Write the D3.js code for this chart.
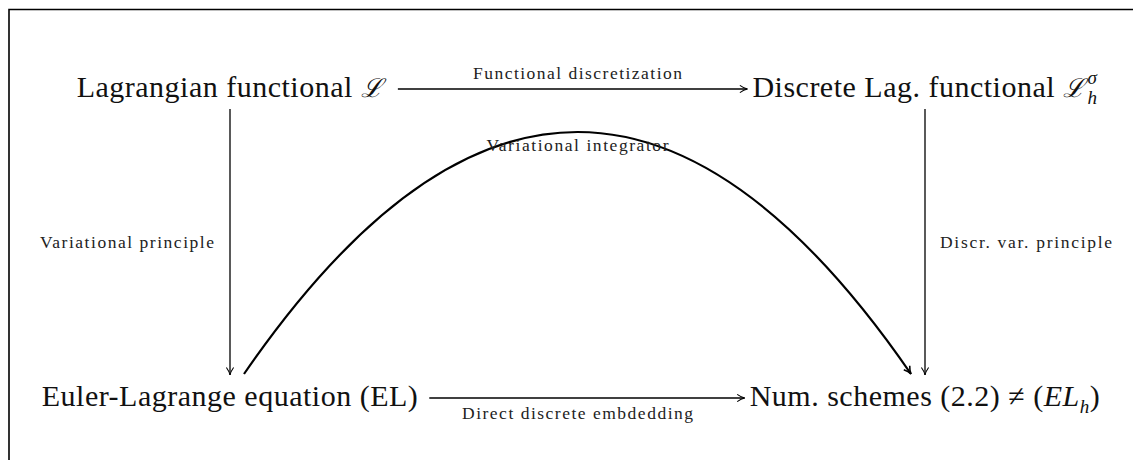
<!DOCTYPE html>
<html>

<head>
    <meta charset="utf-8">
    <style>
        body {
            margin: 0;
            background: white;
        }

        svg {
            display: block;
        }

        .node {
            font-family: 'Liberation Serif', 'DejaVu Serif', serif;
            font-size: 30px;
            letter-spacing: 0.5px;
            fill: #111;
        }

        .label {
            font-family: 'Liberation Serif', 'DejaVu Serif', serif;
            font-size: 17.5px;
            fill: #222;
        }
    </style>
</head>

<body>
    <svg width="1133" height="460"></svg>

    <script src="https://d3js.org/d3.v7.min.js"></script>
    <script>
        // diagram content: node texts (split into text / math parts) and arrows
        let nodeParts = [
            [["Lagrangian functional ", "rm"], ["ℒ", "cal"]],
            [["Discrete Lag. functional ", "rm"], ["ℒ", "cal"], ["σ", "sup"], ["h", "sub"]],
            [["Euler-Lagrange equation (EL)", "rm"]],
            [["Num. schemes (2.2) ", "rm"], ["≠", "rm"], [" (", "rm"], ["EL", "it"], ["h", "sub"], [")", "rm"]]
        ];
        let nodeCol = [0, 1, 0, 1];
        let nodeRow = [0, 0, 1, 1];

        let edgeFrom = [0, 0, 1, 2, 2];
        let edgeTo = [1, 2, 3, 3, 3];
        let edgeKind = ["across", "down", "down", "across", "arc"];
        let edgeSide = ["above", "left", "right", "below", "inside"];
        let edgeLabels = [
            "Functional discretization",
            "Variational principle",
            "Discr. var. principle",
            "Direct discrete embdedding",
            "Variational integrator"
        ];

        let width = 1133;
        let height = 460;

        // label widths of the small TeX font, used to spread the letters
        let labelWidth = [209, 174, 172, 231, 182];

        let svg = d3.select("svg");

        // column centres and text baselines
        let x = d3.scaleLinear().domain([0, 1]).range([230, 925]);
        let y = d3.scaleLinear().domain([0, 1]).range([97, 406]);

        // frame (top + left edge only)
        svg.append("path")
            .attr("d", `M9,${height} V9.5 H${width}`)
            .attr("fill", "none")
            .attr("stroke", "#000")
            .attr("stroke-width", 1.6);

        // xy-pic style open arrow tips
        let defs = svg.append("defs");
        [["tip", 1.1], ["tipBold", 1.6]].forEach(([id, w]) => {
            defs.append("marker")
                .attr("id", id)
                .attr("viewBox", "-9 -5 10 10")
                .attr("refX", 0)
                .attr("refY", 0)
                .attr("markerWidth", 10)
                .attr("markerHeight", 10)
                .attr("markerUnits", "userSpaceOnUse")
                .attr("orient", "auto")
                .append("path")
                .attr("d", "M-7.5,-3.6 Q-3.5,-0.7 0,0 Q-3.5,0.7 -7.5,3.6")
                .attr("fill", "none")
                .attr("stroke", "#000")
                .attr("stroke-width", w);
        });

        // nodes
        let nodes = svg.append("g").selectAll("text")
            .data(nodeParts)
            .join("text")
            .attr("class", "node")
            .attr("text-anchor", "middle")
            .attr("x", (d, i) => x(nodeCol[i]))
            .attr("y", (d, i) => y(nodeRow[i]));

        nodes.each(function (parts) {
            let t = d3.select(this);
            let shift = 0;
            let lastSupWidth = 0;
            parts.forEach(([s, kind]) => {
                let span = t.append("tspan").text(s);
                let target = 0;
                if (kind === "cal") {
                    span.attr("font-family", "'DejaVu Serif', serif").attr("font-style", "italic")
                        .attr("font-size", "26px");
                }
                if (kind === "it") span.attr("font-style", "italic");
                if (kind === "sup") {
                    target = -13;
                    span.attr("font-style", "italic").attr("font-size", "19px").attr("dx", 2);
                }
                if (kind === "sub") {
                    target = 7;
                    span.attr("font-style", "italic").attr("font-size", "19px");
                    if (lastSupWidth) span.attr("dx", -lastSupWidth);
                }
                span.attr("dy", target - shift);
                shift = target;
                lastSupWidth = kind === "sup" ? span.node().getComputedTextLength() : 0;
            });
        });

        let boxes = nodes.nodes().map(n => n.getBBox());

        // arrows
        let g = svg.append("g");
        edgeFrom.forEach((a, i) => {
            let b = edgeTo[i];
            let kind = edgeKind[i];
            let lx, ly, anchor = "middle";

            if (kind === "across") {
                let yy = y(nodeRow[a]) - 8;
                let x1 = boxes[a].x + boxes[a].width + 11;
                let x2 = boxes[b].x - 5;
                g.append("line")
                    .attr("x1", x1).attr("x2", x2)
                    .attr("y1", yy).attr("y2", yy)
                    .attr("stroke", "#000").attr("stroke-width", 1.4)
                    .attr("marker-end", "url(#tip)");
                lx = (x(0) + x(1)) / 2;
                ly = edgeSide[i] === "above" ? yy - 10 : yy + 21;
            } else if (kind === "down") {
                let xx = x(nodeCol[a]);
                let y1 = y(0) + 12;
                let y2 = y(1) - 31;
                g.append("line")
                    .attr("x1", xx).attr("x2", xx)
                    .attr("y1", y1).attr("y2", y2)
                    .attr("stroke", "#000").attr("stroke-width", 1.3)
                    .attr("marker-end", "url(#tip)");
                ly = (y1 + y2) / 2 + 6;
                if (edgeSide[i] === "left") {
                    lx = xx - 16;
                    anchor = "end";
                } else {
                    lx = xx + 15;
                    anchor = "start";
                }
            } else {
                // curved arrow over the square, a parabola with its top at y = 133
                let x1 = x(nodeCol[a]) + 14;
                let x2 = x(nodeCol[b]) - 14;
                let y0 = y(1) - 32;
                let top = 132;
                let p = d3.path();
                p.moveTo(x1, y0);
                p.quadraticCurveTo((x1 + x2) / 2, 2 * top - y0, x2, y0);
                g.append("path")
                    .attr("d", p.toString())
                    .attr("fill", "none")
                    .attr("stroke", "#000").attr("stroke-width", 2.2)
                    .attr("marker-end", "url(#tipBold)");
                lx = (x1 + x2) / 2;
                ly = top + 19;
            }

            g.append("text")
                .attr("class", "label")
                .attr("x", lx)
                .attr("y", ly)
                .attr("text-anchor", anchor)
                .attr("textLength", labelWidth[i])
                .attr("lengthAdjust", "spacing")
                .text(edgeLabels[i]);
        });
    </script>
</body>

</html>
